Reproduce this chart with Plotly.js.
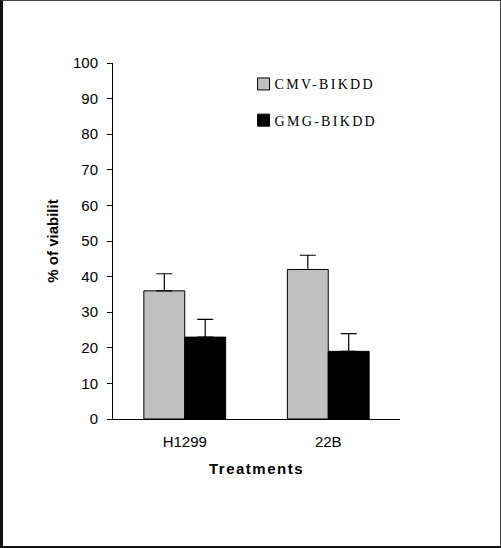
<!DOCTYPE html>
<html>
<head>
<meta charset="utf-8">
<script src="https://cdn.plot.ly/plotly-3.0.1.min.js"></script>
<style>
  html, body { margin: 0; padding: 0; background: #fff; }
  #wrap { position: relative; width: 501px; height: 548px; }
  #chart { width: 501px; height: 548px; }
  #frame { position: absolute; left: 0; top: 0; width: 501px; height: 548px; box-sizing: border-box;
           border: 1px solid #444; border-left: 3px solid #111; border-bottom: 2px solid #111; pointer-events: none; }
  .xtitle { letter-spacing: 1.5px; }
  .legendtext { letter-spacing: 2.3px; transform: translateX(-9px); }
</style>
</head>
<body>
<div id="wrap">
  <div id="chart"></div>
  <div id="frame"></div>
</div>
<script>
const categories = ["H1299", "22B"];
const seriesNames = ["CMV-BIKDD", "GMG-BIKDD"];
const cmvValues = [36, 42];
const cmvErrors = [4.8, 4];
const gmgValues = [23, 19];
const gmgErrors = [5, 5];
const yTickValues = [0, 10, 20, 30, 40, 50, 60, 70, 80, 90, 100];

const errStyle = (arr) => ({ type: "data", array: arr, arrayminus: arr.map(() => 0), symmetric: false,
  visible: true, color: "#000", thickness: 1.2, width: 8 });

const traces = [
  { type: "bar", name: seriesNames[0], x: categories, y: cmvValues, legendgroup: "a",
    marker: { color: "#c0c0c0", line: { color: "#000", width: 1 } }, error_y: errStyle(cmvErrors) },
  { type: "bar", name: seriesNames[1], x: categories, y: gmgValues, legendgroup: "b",
    marker: { color: "#000000", line: { color: "#000", width: 1 } }, error_y: errStyle(gmgErrors) }
];

const layout = {
  width: 501, height: 548,
  margin: { l: 113, r: 101, t: 63, b: 129 },
  paper_bgcolor: "#fff", plot_bgcolor: "#fff",
  barmode: "group", bargap: 0.43, bargroupgap: 0,
  showlegend: true,
  legend: { x: 0.455, y: 0.985, xanchor: "left", yanchor: "top", bgcolor: "rgba(0,0,0,0)",
    traceorder: "grouped", tracegroupgap: 15,
    font: { family: "Liberation Serif, Times New Roman, serif", size: 14, color: "#000" } },
  font: { family: "Liberation Sans, Arial, sans-serif", size: 14, color: "#000" },
  xaxis: {
    showline: true, linecolor: "#000", linewidth: 1, ticks: "", showgrid: false, zeroline: false,
    ticklabelstandoff: 9,
    tickfont: { family: "Liberation Sans, Arial, sans-serif", size: 15, color: "#000" },
    title: { text: "Treatments", standoff: 14,
      font: { family: "Liberation Sans, Arial, sans-serif", size: 15, color: "#000", weight: "bold" } }
  },
  yaxis: {
    range: [0, 100], tickvals: yTickValues, showline: true, linecolor: "#000", linewidth: 1,
    ticks: "outside", ticklen: 5, tickcolor: "#000", showgrid: false, zeroline: false,
    ticklabelstandoff: 6,
    tickfont: { family: "Liberation Sans, Arial, sans-serif", size: 15, color: "#000" },
    title: { text: "% of viabilit", standoff: 10,
      font: { family: "Liberation Sans, Arial, sans-serif", size: 15, color: "#000", weight: "bold" } }
  }
};

Plotly.newPlot("chart", traces, layout, { displayModeBar: false, staticPlot: true });
</script>
</body>
</html>
